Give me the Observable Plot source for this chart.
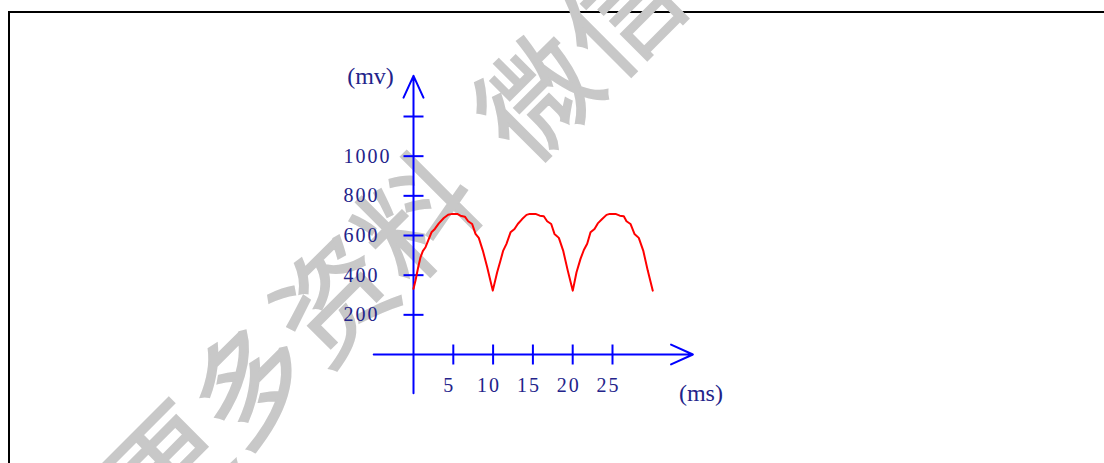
<!DOCTYPE html>
<html>
<head>
<meta charset="utf-8">
<script src="https://cdn.jsdelivr.net/npm/d3@7"></script>
<script src="https://cdn.jsdelivr.net/npm/@observablehq/plot@0.6"></script>
<style>
  html, body { margin: 0; padding: 0; background: #fff; width: 1104px; height: 463px; overflow: hidden; }
  #frame { position: absolute; left: 8px; top: 11px; width: 1200px; height: 600px;
           border-top: 2px solid #000; border-left: 2px solid #000; z-index: 0; }
  #wm { position: absolute; left: 81px; top: 462px; transform-origin: 0 0; transform: rotate(-45deg);
        white-space: nowrap; line-height: 1; font-family: "Noto Sans CJK SC"; font-weight: 400;
        font-size: 115px; letter-spacing: 3px; color: rgb(200,200,200);
        -webkit-text-stroke: 2px rgb(200,200,200); z-index: 1; }
  #wm .sp { display: inline-block; width: 52px; }
  #chart { position: absolute; left: 0; top: 0; z-index: 2; }
  g[font-size="20"] text { letter-spacing: 2px; }
</style>
</head>
<body>
<div id="frame"></div>
<div id="wm">更多资料<span class="sp"></span>微信公众号</div>
<div id="chart"></div>
<script>
// Waveform readings (time in ms, voltage in mV)
const timeMs = [
  0, 0.25, 0.59, 0.88, 1.17, 1.51, 1.84, 2.26, 2.68, 3.18, 3.81, 4.35, 4.86, 5.49, 5.9, 6.45, 6.87, 7.37, 7.79, 8.2, 8.71, 9.26, 9.96,
  10.51, 10.93, 11.27, 11.68, 12.19, 12.69, 13.1, 13.65, 14.2, 14.61, 15.33, 15.87, 16.37, 16.79, 17.3, 17.71, 18.26, 18.8, 19.38, 20.01,
  20.48, 20.98, 21.4, 21.82, 22.24, 22.74, 23.15, 23.7, 24.25, 24.66, 25.38, 25.92, 26.42, 26.76, 27.26, 27.76, 28.3, 28.86, 29.43, 30.06
];
const voltageMv = [
  331, 373, 440, 490, 521, 541, 574, 616, 633, 661, 688, 705, 709, 709, 700, 695, 672, 658, 608, 588, 524, 440, 322,
  415, 474, 524, 558, 616, 633, 658, 683, 704, 709, 709, 700, 697, 672, 658, 608, 588, 524, 423, 322,
  415, 482, 527, 558, 616, 633, 661, 683, 704, 709, 709, 700, 697, 672, 658, 608, 588, 524, 423, 322
];
const xTicks = [5, 10, 15, 20, 25];
const xTickLabels = ["5", "10", "15", "20", "25"];
const yTicks = [200, 400, 600, 800, 1000, 1200];
const yTickLabels = [200, 400, 600, 800, 1000];
const xAxisExtent = [-5, 35.1];
const yAxisExtent = [-196, 1405];
const xUnit = "(ms)";
const yUnit = "(mv)";

const data = timeMs.map((t, i) => ({t, v: voltageMv[i]}));

const blue = "#0000ff";
const navy = "#23238a";
const serif = "'Liberation Serif', 'DejaVu Serif', serif";

const vTick = { draw(ctx, size) { const r = Math.sqrt(size / Math.PI); ctx.moveTo(0, -r); ctx.lineTo(0, r); } };
const hTick = { draw(ctx, size) { const r = Math.sqrt(size / Math.PI); ctx.moveTo(-r, 0); ctx.lineTo(r, 0); } };

const chart = Plot.plot({
  width: 1104,
  height: 463,
  style: { background: "transparent" },
  x: { domain: [0, 30], range: [413, 651.8], axis: null },
  y: { domain: [0, 1200], range: [354, 116], axis: null },
  marks: [
    Plot.arrow([{}], { x1: xAxisExtent[0], x2: xAxisExtent[1], y1: 0, y2: 0, stroke: blue, strokeWidth: 2, headLength: 18, headAngle: 49 }),
    Plot.arrow([{}], { x1: 0, x2: 0, y1: yAxisExtent[0], y2: yAxisExtent[1], stroke: blue, strokeWidth: 2, headLength: 18, headAngle: 49 }),
    Plot.dot(xTicks, { x: d => d, y: 0, symbol: vTick, r: 10, fill: "none", stroke: blue, strokeWidth: 2 }),
    Plot.dot(yTicks, { x: 0, y: d => d, symbol: hTick, r: 10, fill: "none", stroke: blue, strokeWidth: 2 }),
    Plot.text(yTickLabels, { x: 0, y: d => d, text: d => String(d), dx: -70, textAnchor: "start", fill: navy, fontSize: 20, fontFamily: serif }),
    Plot.text(xTicks, { x: d => d, y: 0, text: (d, i) => xTickLabels[i], dx: -4, dy: 31, fill: navy, fontSize: 20, fontFamily: serif }),
    Plot.text([yUnit], { x: 0, y: yAxisExtent[1], text: d => d, dx: -43, fill: navy, fontSize: 24, fontFamily: serif }),
    Plot.text([xUnit], { x: xAxisExtent[1], y: 0, text: d => d, dx: 8, dy: 39, fill: navy, fontSize: 24, fontFamily: serif }),
    Plot.line(data, { x: "t", y: "v", stroke: "#ff0000", strokeWidth: 2 })
  ]
});
document.getElementById("chart").appendChild(chart);
</script>
</body>
</html>
